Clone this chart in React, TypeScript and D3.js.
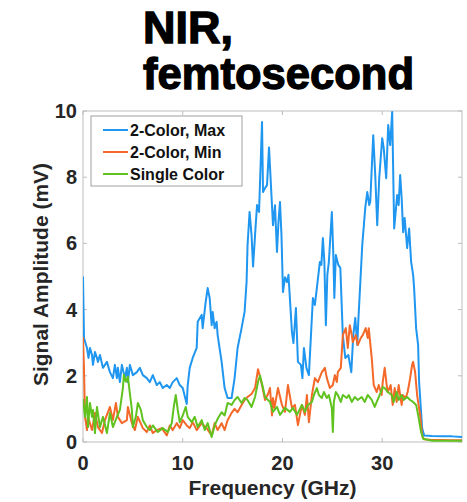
import React from "react";
import * as d3 from "d3";

const titleLines = ["NIR,", "femtosecond"];
const xTicks = [0, 10, 20, 30];
const yTicks = [0, 2, 4, 6, 8, 10];
const seriesNames = ["2-Color, Max", "2-Color, Min", "Single Color"];
const seriesColors = ["#1f96ef", "#f4692a", "#5fc21f"];

const maxFreq = [0, 0.1, 0.4, 0.55, 0.7, 0.9, 1.0, 1.2, 1.4, 1.5, 1.7, 2.0, 2.4, 2.7, 3.0, 3.2, 3.4, 3.5, 3.7, 3.9, 4.2, 4.4, 4.5, 4.7, 5.0, 5.4, 5.7, 6.0, 6.4, 6.7, 7.0, 7.4, 7.7, 8.0, 8.4, 8.7, 9.0, 9.4, 9.7, 10.0, 10.4, 10.5, 10.7, 11.0, 11.4, 11.5, 11.9, 12.0, 12.3, 12.5, 12.7, 12.9, 13.0, 13.2, 13.4, 13.5, 13.9, 14.2, 14.5, 14.9, 15.2, 15.5, 15.9, 16.2, 16.4, 16.5, 16.7, 16.9, 17.05, 17.25, 17.45, 17.65, 17.95, 18.05, 18.25, 18.45, 18.65, 19.05, 19.25, 19.45, 19.6, 19.75, 19.9, 20.05, 20.25, 20.45, 20.6, 20.95, 21.1, 21.35, 21.55, 21.85, 22.0, 22.15, 22.4, 22.65, 23.05, 23.25, 23.4, 23.75, 23.9, 24.05, 24.2, 24.35, 24.5, 24.65, 24.95, 25.1, 25.2, 25.35, 25.6, 25.8, 26.05, 26.3, 26.6, 26.9, 27.1, 27.3, 27.5, 27.6, 28.0, 28.3, 28.5, 28.7, 28.8, 29.1, 29.3, 29.5, 29.7, 30.0, 30.15, 30.4, 30.6, 30.8, 31.0, 31.2, 31.5, 31.65, 31.8, 31.95, 32.1, 32.25, 32.5, 32.7, 32.9, 33.1, 33.2, 33.4, 33.6, 33.7, 34.0, 34.2, 35.0, 36.0, 37.0, 38.0];
const maxValues = [5.0, 3.14, 2.84, 2.54, 2.84, 2.63, 2.33, 2.72, 2.54, 2.42, 2.63, 2.24, 2.42, 2.11, 1.93, 2.33, 1.93, 2.24, 1.81, 2.33, 1.93, 2.24, 1.81, 2.33, 2.02, 2.11, 2.24, 2.02, 1.93, 1.81, 2.02, 1.72, 1.81, 1.63, 1.72, 1.63, 1.81, 1.93, 1.72, 1.63, 1.15, 1.72, 2.24, 2.54, 2.84, 3.63, 3.84, 3.44, 4.23, 4.65, 4.35, 3.53, 3.93, 3.44, 3.63, 3.23, 2.42, 1.63, 1.33, 1.33, 1.93, 2.84, 3.44, 3.93, 4.83, 5.95, 6.95, 6.25, 5.3, 6.25, 7.16, 6.95, 9.67, 7.55, 7.67, 7.76, 8.9, 6.55, 7.15, 5.74, 6.65, 7.25, 6.25, 4.53, 4.98, 4.83, 5.05, 3.32, 2.99, 4.05, 2.42, 2.33, 1.93, 2.84, 2.24, 2.02, 4.35, 4.14, 4.53, 5.44, 5.35, 6.16, 5.44, 3.53, 5.05, 5.44, 6.95, 5.65, 4.35, 5.65, 5.35, 5.26, 3.23, 2.54, 2.63, 2.11, 3.23, 3.75, 2.93, 3.63, 5.95, 7.07, 7.55, 7.16, 7.25, 9.27, 8.07, 6.55, 7.97, 9.18, 8.88, 7.97, 9.58, 8.97, 9.97, 6.45, 7.46, 7.16, 8.07, 7.37, 6.34, 6.77, 5.86, 6.45, 5.44, 5.05, 4.65, 3.44, 2.93, 1.81, 0.42, 0.2, 0.18, 0.17, 0.17, 0.15];

const minFreq = [0, 0.1, 0.2, 0.4, 0.5, 0.9, 1.2, 1.5, 1.9, 2.2, 2.7, 3.0, 3.3, 3.5, 3.9, 4.4, 4.5, 4.9, 5.2, 5.5, 6.0, 6.4, 6.7, 7.0, 7.4, 7.9, 8.4, 8.7, 9.0, 9.4, 9.7, 10.0, 10.4, 10.7, 11.0, 11.4, 11.9, 12.4, 12.9, 13.2, 13.5, 13.9, 14.2, 14.5, 14.9, 15.2, 15.5, 15.9, 16.2, 16.5, 16.9, 17.25, 17.55, 17.95, 18.25, 18.55, 18.75, 18.95, 19.05, 19.2, 19.55, 19.95, 20.25, 20.55, 20.95, 21.25, 21.55, 21.95, 22.25, 22.45, 22.65, 22.95, 23.25, 23.55, 23.95, 24.25, 24.45, 24.75, 25.05, 25.25, 25.45, 25.55, 25.85, 26.05, 26.35, 26.55, 26.75, 26.95, 27.05, 27.35, 27.55, 27.85, 28.05, 28.35, 28.55, 28.65, 28.95, 29.15, 29.45, 29.65, 29.95, 30.05, 30.25, 30.45, 30.55, 30.85, 31.05, 31.25, 31.45, 31.65, 31.95, 32.05, 32.35, 32.55, 32.8, 33.0, 33.1, 33.3, 33.5, 33.6, 33.8, 34.0, 34.2, 35.0, 36.0, 37.0, 38.0];
const minValues = [3.17, 2.2, 0.76, 0.36, 0.76, 0.36, 0.88, 0.45, 0.27, 0.66, 1.06, 0.66, 1.18, 0.76, 0.57, 0.66, 1.06, 0.57, 0.36, 0.76, 0.42, 0.3, 0.5, 0.27, 0.36, 0.42, 0.2, 0.5, 0.36, 0.57, 0.42, 0.66, 0.5, 0.42, 0.6, 0.36, 0.57, 0.42, 0.2, 0.57, 0.36, 0.57, 0.36, 0.66, 0.88, 1.0, 0.9, 1.12, 1.27, 1.36, 1.45, 1.63, 2.2, 1.72, 1.27, 1.45, 1.63, 0.8, 1.33, 1.03, 1.63, 1.12, 0.91, 1.72, 1.03, 1.12, 0.51, 1.12, 0.82, 1.42, 0.6, 1.42, 1.93, 1.81, 2.11, 2.24, 1.93, 1.63, 1.72, 2.02, 1.81, 2.11, 2.24, 3.23, 3.44, 2.84, 3.53, 3.23, 3.02, 3.23, 2.93, 3.14, 3.23, 3.44, 3.14, 3.44, 2.54, 1.72, 1.51, 1.72, 1.42, 1.81, 2.24, 1.72, 1.51, 1.72, 1.12, 1.63, 1.21, 1.72, 1.12, 1.42, 1.33, 1.51, 1.93, 2.33, 2.42, 2.11, 1.42, 1.21, 0.82, 0.2, 0.08, 0.06, 0.06, 0.05, 0.05];

const singleFreq = [0, 0.2, 0.4, 0.5, 0.7, 0.9, 1.0, 1.2, 1.4, 1.7, 2.0, 2.4, 2.7, 3.0, 3.4, 3.7, 4.0, 4.1, 4.3, 4.5, 4.6, 4.9, 5.0, 5.3, 5.5, 5.8, 6.0, 6.4, 6.7, 7.0, 7.5, 8.0, 8.5, 8.9, 9.1, 9.3, 9.5, 9.7, 10.0, 10.3, 10.5, 10.9, 11.2, 11.5, 11.9, 12.2, 12.5, 12.9, 13.2, 13.5, 13.9, 14.2, 14.5, 14.9, 15.2, 15.5, 15.9, 16.2, 16.5, 16.9, 17.25, 17.55, 17.75, 18.05, 18.25, 18.55, 18.75, 19.05, 19.45, 19.75, 20.25, 20.75, 21.05, 21.45, 21.95, 22.25, 22.55, 22.95, 23.15, 23.45, 23.65, 23.95, 24.15, 24.45, 24.65, 24.95, 25.05, 25.15, 25.35, 25.55, 25.85, 26.05, 26.45, 26.65, 26.95, 27.25, 27.55, 27.95, 28.25, 28.55, 28.95, 29.25, 29.45, 29.75, 30.05, 30.25, 30.55, 30.95, 31.15, 31.45, 31.65, 31.95, 32.15, 32.5, 32.8, 33.1, 33.4, 33.6, 33.9, 34.1, 35.0, 36.0, 37.0, 38.0];
const singleValues = [1.3, 0.76, 1.36, 0.45, 1.18, 0.76, 0.97, 0.27, 1.06, 0.45, 0.76, 0.27, 0.88, 0.45, 0.76, 0.97, 1.63, 2.03, 1.82, 1.97, 1.72, 0.97, 0.45, 0.76, 1.18, 0.97, 0.66, 0.45, 0.36, 0.5, 0.3, 0.42, 0.3, 0.57, 1.06, 1.42, 0.97, 0.6, 0.8, 1.06, 0.76, 0.6, 0.76, 0.45, 0.66, 0.36, 0.57, 0.15, 0.5, 0.7, 0.9, 0.8, 1.18, 1.12, 1.27, 1.36, 1.18, 1.33, 1.27, 1.06, 1.36, 1.82, 2.0, 1.63, 1.36, 1.27, 1.21, 0.91, 1.06, 0.82, 1.03, 0.91, 1.03, 0.82, 1.12, 0.91, 1.12, 1.21, 1.42, 1.63, 1.42, 1.33, 1.51, 1.33, 1.42, 1.03, 0.3, 1.21, 1.51, 1.42, 1.21, 1.42, 1.33, 1.42, 1.21, 1.36, 1.27, 1.36, 1.21, 1.42, 1.27, 1.06, 1.21, 1.42, 1.66, 1.63, 1.51, 1.42, 1.21, 1.51, 1.27, 1.42, 1.27, 1.36, 1.27, 1.21, 1.12, 0.82, 0.3, 0.1, 0.04, 0.04, 0.04, 0.04];

const W = 467;
const H = 502;
const M = { left: 83, right: 462, top: 111, bottom: 442 };

export default function App() {
  const x = d3.scaleLinear().domain([0, 38]).range([M.left, M.right]);
  const y = d3.scaleLinear().domain([0, 10]).range([M.bottom, M.top]);
  const line = d3
    .line<[number, number]>()
    .x((d) => x(d[0]))
    .y((d) => y(d[1]));

  const series = [
    { f: maxFreq, v: maxValues },
    { f: minFreq, v: minValues },
    { f: singleFreq, v: singleValues },
  ];

  const font = "Arial, 'Liberation Sans', sans-serif";
  const tickLen = 4;
  const axisColor = "#bdbdbd";
  const textColor = "#262626";

  return (
    <svg
      width={W}
      height={H}
      style={{ position: "absolute", left: 0, top: 0, background: "#fff" }}
    >
      {/* title */}
      <g
        fontFamily="'Liberation Sans', Arial, sans-serif"
        fontWeight="bold"
        fontSize={44}
        fill="#000"
        stroke="#000"
        strokeWidth={1.3}
      >
        <text x={143} y={43} textLength={90} lengthAdjust="spacingAndGlyphs">
          {titleLines[0]}
        </text>
        <text x={143} y={89} textLength={271} lengthAdjust="spacingAndGlyphs">
          {titleLines[1]}
        </text>
      </g>

      {/* box */}
      <rect
        x={M.left}
        y={M.top}
        width={M.right - M.left}
        height={M.bottom - M.top}
        fill="none"
        stroke={axisColor}
        strokeWidth={1}
      />
      {/* ticks */}
      {xTicks.map((t) => (
        <g key={"xt" + t} stroke={axisColor}>
          <line x1={x(t)} x2={x(t)} y1={M.bottom} y2={M.bottom - tickLen} />
          <line x1={x(t)} x2={x(t)} y1={M.top} y2={M.top + tickLen} />
        </g>
      ))}
      {yTicks.map((t) => (
        <g key={"yt" + t} stroke={axisColor}>
          <line x1={M.left} x2={M.left + tickLen} y1={y(t)} y2={y(t)} />
          <line x1={M.right} x2={M.right - tickLen} y1={y(t)} y2={y(t)} />
        </g>
      ))}

      {/* series lines */}
      <defs>
        <clipPath id="clip">
          <rect x={M.left} y={M.top - 2} width={M.right - M.left} height={M.bottom - M.top + 2} />
        </clipPath>
      </defs>
      <g clipPath="url(#clip)">
        {series.map((s, i) => (
          <path
            key={i}
            d={line(s.f.map((f, j) => [f, s.v[j]] as [number, number])) || ""}
            fill="none"
            stroke={seriesColors[i]}
            strokeWidth={2}
            strokeLinejoin="round"
          />
        ))}
      </g>

      {/* tick labels */}
      <g fontFamily={font} fontWeight="bold" fontSize={20} fill={textColor}>
        {xTicks.map((t) => (
          <text key={"xl" + t} x={x(t)} y={470} textAnchor="middle">
            {t}
          </text>
        ))}
        {yTicks.map((t) => (
          <text key={"yl" + t} x={77} y={y(t) + 7} textAnchor="end">
            {t}
          </text>
        ))}
      </g>

      {/* axis labels */}
      <text
        x={(M.left + M.right) / 2}
        y={495}
        textAnchor="middle"
        fontFamily={font}
        fontWeight="bold"
        fontSize={21}
        fill={textColor}
      >
        Frequency (GHz)
      </text>
      <text
        transform={`translate(48, ${(M.top + M.bottom) / 2 - 2}) rotate(-90)`}
        textAnchor="middle"
        fontFamily={font}
        fontWeight="bold"
        fontSize={21}
        fill={textColor}
      >
        Signal Amplitude (mV)
      </text>

      {/* legend */}
      <rect x={91} y={116} width={151} height={70} fill="#fff" stroke="#a0a0a0" strokeWidth={1} />
      {seriesNames.map((n, i) => (
        <g key={n}>
          <line
            x1={103}
            x2={128}
            y1={130 + i * 22}
            y2={130 + i * 22}
            stroke={seriesColors[i]}
            strokeWidth={2}
          />
          <text
            x={130}
            y={130 + i * 22 + 6}
            fontFamily={font}
            fontWeight="bold"
            fontSize={16}
            fill="#111"
          >
            {n}
          </text>
        </g>
      ))}
    </svg>
  );
}
